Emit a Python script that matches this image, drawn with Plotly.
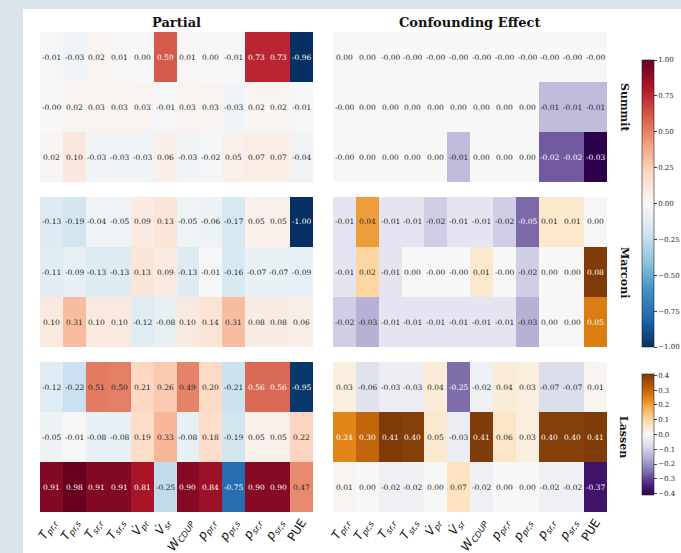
import plotly.graph_objects as go

# ---------------- data ----------------
features = ["T_pr,r", "T_pr,s", "T_sr,r", "T_sr,s", "V_pr", "V_sr",
            "W_CDUP", "p_pr,r", "p_pr,s", "p_sr,r", "p_sr,s", "PUE"]
tick_labels = [
    "<i>T</i><sub><i>pr,r</i></sub>", "<i>T</i><sub><i>pr,s</i></sub>",
    "<i>T</i><sub><i>sr,r</i></sub>", "<i>T</i><sub><i>sr,s</i></sub>",
    "<i>V\u0307</i><sub><i>pr</i></sub>", "<i>V\u0307</i><sub><i>sr</i></sub>",
    "<i>W</i><sub><i>CDUP</i></sub>", "<i>p</i><sub><i>pr,r</i></sub>",
    "<i>p</i><sub><i>pr,s</i></sub>", "<i>p</i><sub><i>sr,r</i></sub>",
    "<i>p</i><sub><i>sr,s</i></sub>", "PUE",
]
systems = ["Summit", "Marconi", "Lassen"]
panel_titles = ["Partial", "Confounding Effect"]

summit_partial = [
    [-0.01, -0.03, 0.02, 0.01, 0.00, 0.59, 0.01, 0.00, -0.01, 0.73, 0.73, -0.96],
    [-0.0, 0.02, 0.03, 0.03, 0.03, -0.01, 0.03, 0.03, -0.03, 0.02, 0.02, -0.01],
    [0.02, 0.10, -0.03, -0.03, -0.03, 0.06, -0.03, -0.02, 0.05, 0.07, 0.07, -0.04],
]
summit_conf = [
    [0.00, 0.00, -0.0, -0.0, -0.0, -0.0, -0.0, -0.0, -0.0, -0.0, -0.0, -0.0],
    [-0.0, 0.00, 0.00, 0.00, 0.00, 0.00, 0.00, 0.00, 0.00, -0.01, -0.01, -0.01],
    [-0.0, 0.00, 0.00, 0.00, 0.00, -0.01, 0.00, 0.00, 0.00, -0.02, -0.02, -0.03],
]
marconi_partial = [
    [-0.13, -0.19, -0.04, -0.05, 0.09, 0.13, -0.05, -0.06, -0.17, 0.05, 0.05, -1.00],
    [-0.11, -0.09, -0.13, -0.13, 0.13, 0.09, -0.13, -0.01, -0.16, -0.07, -0.07, -0.09],
    [0.10, 0.31, 0.10, 0.10, -0.12, -0.08, 0.10, 0.14, 0.31, 0.08, 0.08, 0.06],
]
marconi_conf = [
    [-0.01, 0.04, -0.01, -0.01, -0.02, -0.01, -0.01, -0.02, -0.05, 0.01, 0.01, 0.00],
    [-0.01, 0.02, -0.01, 0.00, -0.0, -0.0, 0.01, -0.0, -0.02, 0.00, 0.00, 0.08],
    [-0.02, -0.03, -0.01, -0.01, -0.01, -0.01, -0.01, -0.01, -0.03, 0.00, 0.00, 0.05],
]
lassen_partial = [
    [-0.12, -0.22, 0.51, 0.50, 0.21, 0.26, 0.49, 0.20, -0.21, 0.56, 0.56, -0.95],
    [-0.05, -0.01, -0.08, -0.08, 0.19, 0.33, -0.08, 0.18, -0.19, 0.05, 0.05, 0.22],
    [0.91, 0.98, 0.91, 0.91, 0.81, -0.25, 0.90, 0.84, -0.75, 0.90, 0.90, 0.47],
]
lassen_conf = [
    [0.03, -0.06, -0.03, -0.03, 0.04, -0.25, -0.02, 0.04, 0.03, -0.07, -0.07, 0.01],
    [0.24, 0.30, 0.41, 0.40, 0.05, -0.03, 0.41, 0.06, 0.03, 0.40, 0.40, 0.41],
    [0.01, 0.00, -0.02, -0.02, 0.00, 0.07, -0.02, 0.00, 0.00, -0.02, -0.02, -0.37],
]
blocks = [[summit_partial, summit_conf],
          [marconi_partial, marconi_conf],
          [lassen_partial, lassen_conf]]

# ---------------- layout geometry (pixels) ----------------
W, H = 681, 553
col_px = [(40, 313), (333, 607)]
row_px = [(32, 182), (197, 347), (362, 512)]
scales = ["RdBu_r", "PuOr_r"]
serif = "DejaVu Serif"
dark = "rgb(38,38,38)"

def px_x(p):
    return p / W

def px_y(p):
    return 1 - p / H

fig = go.Figure()
annotations = []
layout_axes = {}

for b in range(3):
    for c in range(2):
        k = b * 2 + c + 1
        z = blocks[b][c]
        m = max(abs(v) for row in z for v in row)
        show = (b == 1 and c == 0) or (b == 2 and c == 1)
        trace = dict(
            z=z, x=list(range(len(features))), y=[0, 1, 2],
            colorscale=scales[c], zmin=-m, zmax=m,
            showscale=show, hoverinfo="z",
            xaxis="x" if k == 1 else f"x{k}",
            yaxis="y" if k == 1 else f"y{k}",
        )
        if show and c == 0:
            trace["colorbar"] = dict(
                x=px_x(642), xanchor="left", xpad=0, thickness=12,
                y=px_y(203.5), yanchor="middle", ypad=0,
                len=287, lenmode="pixels",
                tickvals=[-1, -0.75, -0.5, -0.25, 0, 0.25, 0.5, 0.75, 1],
                tickformat=".2f", ticks="outside", ticklen=3, tickwidth=0.8,
                tickfont=dict(family=serif, size=7, color=dark),
                outlinewidth=0.6, outlinecolor="#222",
            )
        if show and c == 1:
            trace["colorbar"] = dict(
                x=px_x(642), xanchor="left", xpad=0, thickness=12,
                y=px_y(434.5), yanchor="middle", ypad=0,
                len=121, lenmode="pixels",
                tickvals=[-0.4, -0.3, -0.2, -0.1, 0, 0.1, 0.2, 0.3, 0.4],
                tickformat=".1f", ticks="outside", ticklen=3, tickwidth=0.8,
                tickfont=dict(family=serif, size=7, color=dark),
                outlinewidth=0.6, outlinecolor="#222",
            )
        fig.add_trace(go.Heatmap(**trace))

        xa = "xaxis" if k == 1 else f"xaxis{k}"
        ya = "yaxis" if k == 1 else f"yaxis{k}"
        layout_axes[xa] = dict(
            domain=[px_x(col_px[c][0]), px_x(col_px[c][1])],
            range=[-0.5, len(features) - 0.5],
            anchor="y" if k == 1 else f"y{k}",
            showgrid=False, zeroline=False, ticks="",
            tickvals=list(range(len(features))), ticktext=tick_labels,
            showticklabels=(b == 2), tickangle=-57,
            tickfont=dict(family="DejaVu Sans", size=12, color="#111"),
            fixedrange=True, automargin=False,
        )
        layout_axes[ya] = dict(
            domain=[px_y(row_px[b][1]), px_y(row_px[b][0])],
            range=[2.5, -0.5],
            anchor="x" if k == 1 else f"x{k}",
            showgrid=False, zeroline=False, showticklabels=False, ticks="",
            fixedrange=True, automargin=False,
        )

        for i, row in enumerate(z):
            for j, v in enumerate(row):
                col = "white" if abs(v) > 0.55 * m else dark
                annotations.append(dict(
                    x=j, y=i, xref="x" if k == 1 else f"x{k}",
                    yref="y" if k == 1 else f"y{k}",
                    text=f"{v:.2f}", showarrow=False,
                    font=dict(family=serif, size=7.5, color=col),
                ))

# panel titles
for c, t in enumerate(panel_titles):
    annotations.append(dict(
        x=px_x((col_px[c][0] + col_px[c][1]) / 2), y=px_y(22),
        xref="paper", yref="paper", text=f"<b>{t}</b>", showarrow=False,
        xanchor="center", yanchor="middle",
        font=dict(family=serif, size=13, color="#111"),
    ))

# system labels
for b, s in enumerate(systems):
    annotations.append(dict(
        x=px_x(624), y=px_y((row_px[b][0] + row_px[b][1]) / 2),
        xref="paper", yref="paper", text=f"<b>{s}</b>", showarrow=False,
        textangle=90, xanchor="center", yanchor="middle",
        font=dict(family=serif, size=11, color="#111"),
    ))

fig.update_layout(
    width=W, height=H,
    margin=dict(l=0, r=0, t=0, b=0, autoexpand=False),
    paper_bgcolor="#dbe3ea",
    plot_bgcolor="white",
    annotations=annotations,
    shapes=[dict(type="rect", xref="paper", yref="paper",
                 x0=px_x(23), x1=1.0, y0=0.0, y1=px_y(9),
                 fillcolor="white", line=dict(width=0), layer="below")],
    showlegend=False,
    **layout_axes,
)

fig.write_html(
    "out.html",
    config={"displayModeBar": False},
    post_script="document.body.style.margin='0';document.body.style.overflow='hidden';",
)
